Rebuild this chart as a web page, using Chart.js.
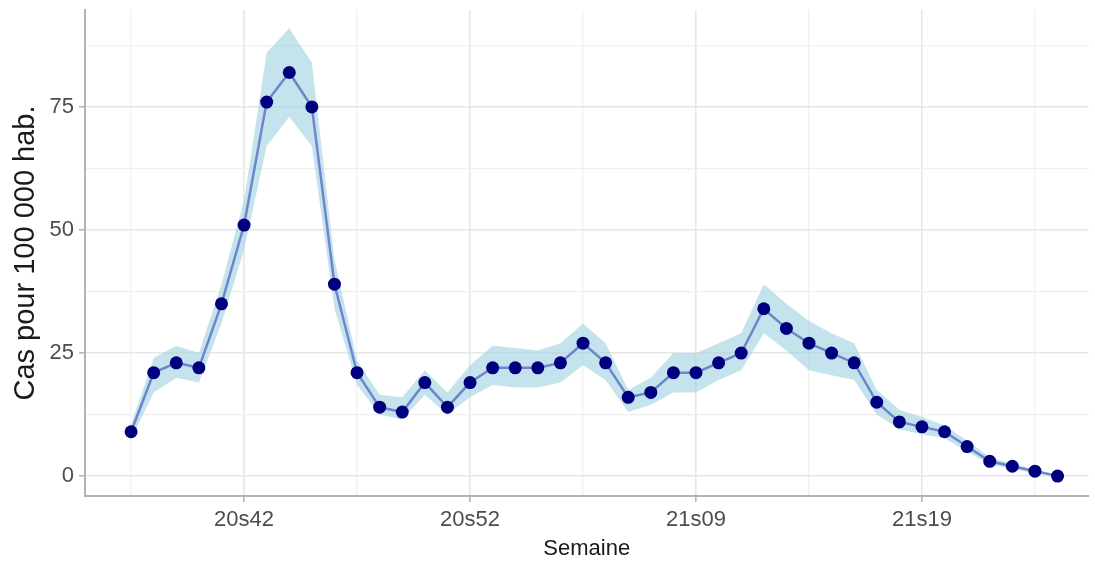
<!DOCTYPE html>
<html>
<head>
<meta charset="utf-8">
<script src="https://cdn.jsdelivr.net/npm/chart.js@4"></script>
<style>
  body { margin: 0; background: #fff; }
  #chart { display: block; }
</style>
</head>
<body>
<canvas id="chart" width="1095" height="562"></canvas>
<script>
var weeks = ['20s37','20s38','20s39','20s40','20s41','20s42','20s43','20s44','20s45','20s46','20s47','20s48','20s49','20s50','20s51','20s52','20s53',
             '21s01','21s02','21s03','21s04','21s05','21s06','21s07','21s08','21s09','21s10','21s11','21s12','21s13','21s14','21s15','21s16','21s17','21s18','21s19','21s20','21s21','21s22','21s23','21s24','21s25'];
var cases = [9,21,23,22,35,51,76,82,75,39,21,14,13,19,14,19,22,
             22,22,23,27,23,16,17,21,21,23,25,34,30,27,25,23,15,11,10,9,6,3,2,1,0];
var upper = [10.5,24,26.5,25,39,56,86,91,84,44,23.5,16.5,16,21.5,17,22.5,26.5,
             26,25.5,27,31,27,17.5,20,25,25,27,29,39,35,31.5,29,27,17.5,13.5,12,10.3,7.2,3.8,2.5,1.3,0.3];
var lower = [7.5,17,20,19,31,46,67,73,67,34,18.5,12.5,11.5,16.5,12.5,16,18.5,
             18,18,19,22.5,19.5,13,14.5,17,17,19.5,21.5,29,25.5,21.5,20.5,19.5,12.5,9.5,8.5,7.7,5,2.3,1.5,0.5,0];
var majorX = [5, 15, 25, 35];
var minorX = [0, 10, 20, 30, 40];
var majorY = [0, 25, 50, 75];
var minorY = [12.5, 37.5, 62.5, 87.5];

function pts(arr) {
    return arr.map(function (v, i) { return { x: i, y: v }; });
}

var ctx = document.getElementById('chart');
new Chart(ctx, {
    type: 'line',
    data: {
        datasets: [
            {
                label: 'Cas',
                data: pts(cases),
                order: 0,
                borderColor: 'rgba(95, 118, 196, 0.85)',
                borderWidth: 2.5,
                pointRadius: 6.5,
                pointBackgroundColor: '#00007f',
                pointBorderWidth: 0,
                fill: false
            },
            {
                label: 'lower',
                data: pts(lower),
                order: 2,
                borderWidth: 0,
                pointRadius: 0,
                fill: false
            },
            {
                label: 'upper',
                data: pts(upper),
                order: 1,
                borderWidth: 0,
                pointRadius: 0,
                backgroundColor: 'rgba(160, 210, 224, 0.62)',
                fill: 1
            }
        ]
    },
    options: {
        responsive: false,
        animation: false,
        layout: { padding: { top: 10, right: 0, left: 0, bottom: 0 } },
        plugins: {
            legend: { display: false },
            tooltip: { enabled: false }
        },
        scales: {
            x: {
                type: 'linear',
                min: -2.04,
                max: 42.37,
                afterBuildTicks: function (axis) {
                    axis.ticks = minorX.concat(majorX).sort(function (a, b) { return a - b; })
                        .map(function (v) { return { value: v }; });
                },
                afterFit: function (axis) {
                    axis.height = 66;
                    axis.paddingLeft = 0;
                    axis.paddingRight = 0;
                },
                ticks: {
                    autoSkip: false,
                    maxRotation: 0,
                    color: '#4d4d4d',
                    padding: 5,
                    font: { family: 'Liberation Sans', size: 22 },
                    callback: function (v) { return majorX.indexOf(v) >= 0 ? weeks[v] : ''; }
                },
                grid: {
                    color: function (c) { return majorX.indexOf(c.tick.value) >= 0 ? '#e6e6e6' : '#efefef'; },
                    lineWidth: function (c) { return majorX.indexOf(c.tick.value) >= 0 ? 1.6 : 1.2; },
                    tickColor: function (c) { return majorX.indexOf(c.tick.value) >= 0 ? '#b3b3b3' : 'rgba(0,0,0,0)'; },
                    tickLength: 6,
                    tickWidth: 1.5
                },
                border: { color: '#b3b3b3', width: 2 },
                title: {
                    display: true,
                    text: 'Semaine',
                    color: '#1a1a1a',
                    font: { family: 'Liberation Sans', size: 22 },
                    padding: { top: 0, bottom: 0 }
                }
            },
            y: {
                min: -4.05,
                max: 94.7,
                afterBuildTicks: function (axis) {
                    axis.ticks = majorY.concat(minorY).sort(function (a, b) { return a - b; })
                        .map(function (v) { return { value: v }; });
                },
                afterFit: function (axis) {
                    axis.width = 85;
                    axis.paddingTop = 0;
                    axis.paddingBottom = 0;
                },
                ticks: {
                    color: '#4d4d4d',
                    padding: 5,
                    font: { family: 'Liberation Sans', size: 22 },
                    callback: function (v) { return majorY.indexOf(v) >= 0 ? String(v) : ''; }
                },
                grid: {
                    color: function (c) { return majorY.indexOf(c.tick.value) >= 0 ? '#e6e6e6' : '#efefef'; },
                    lineWidth: function (c) { return majorY.indexOf(c.tick.value) >= 0 ? 1.6 : 1.2; },
                    tickColor: function (c) { return majorY.indexOf(c.tick.value) >= 0 ? '#b3b3b3' : 'rgba(0,0,0,0)'; },
                    tickLength: 6,
                    tickWidth: 1.5
                },
                border: { color: '#b3b3b3', width: 2 },
                title: {
                    display: true,
                    text: 'Cas pour 100 000 hab.',
                    color: '#1a1a1a',
                    font: { family: 'Liberation Sans', size: 29 },
                    padding: { top: 9, bottom: 0 }
                }
            }
        }
    }
});
</script>
</body>
</html>
